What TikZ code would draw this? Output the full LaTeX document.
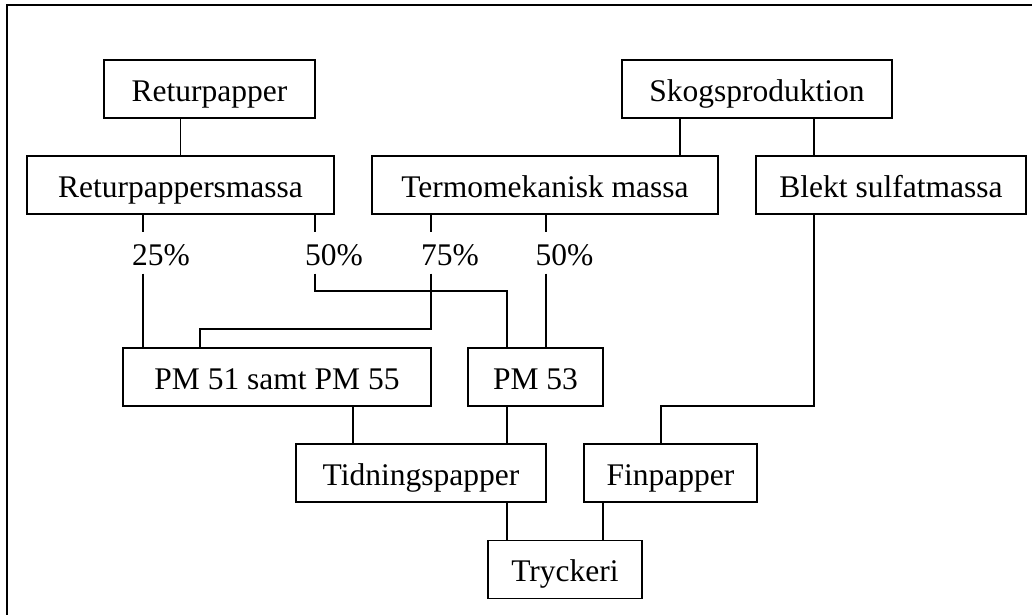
\documentclass[tikz,border=0pt]{standalone}
\usepackage{fontspec}
\setmainfont{Liberation Serif}
\usepackage{tikz}
\usetikzlibrary{positioning,calc}

\begin{document}
\begin{tikzpicture}[x=0.3pt, y=-0.3pt,
    box/.style={draw, line width=0.55pt, inner sep=0pt, minimum height=17.4pt,
        font=\fontsize{9.45}{11}\selectfont, text height=0.75em, text depth=0pt},
    pct/.style={inner sep=0pt, minimum height=12pt,
        font=\fontsize{9.45}{11}\selectfont, text height=0.75em, text depth=0pt},
    link/.style={line width=0.55pt}]
    \useasboundingbox (0,0) rectangle (1032,615);
    \draw[line width=0.75pt] (1032,5) -| (7,615);

    % Top row
    \node[box, minimum width=63.3pt] (retur) at (209.5,89) {Returpapper};
    \node[box, minimum width=81pt] (skog) at (757,89) {Skogsproduktion};

    % Pulp
    \node[box, minimum width=92.1pt] (rmassa) at (180.5,185) {Returpappersmassa};
    \node[box, minimum width=103.8pt] (termo) at (545,185) {Termomekanisk massa};
    \node[box, minimum width=81pt] (blekt) at (891,185) {Blekt sulfatmassa};

    % Shares
    \node[pct] (p25) at (161,253) {25\%};
    \node[pct] (p50a) at (334,253) {50\%};
    \node[pct] (p75) at (450,253) {75\%};
    \node[pct] (p50b) at (564.5,253) {50\%};

    % Machines
    \node[box, minimum width=92.4pt] (pm51) at (277,377) {PM 51 samt PM 55};
    \node[box, minimum width=40.5pt] (pm53) at (535.5,377) {PM 53};

    % Paper
    \node[box, minimum width=75pt] (tidning) at (421,473) {Tidningspapper};
    \node[box, minimum width=51.9pt] (fin) at (670.5,473) {Finpapper};
    \node[box, minimum width=46.2pt] (tryck) at (565,569.5) {Tryckeri};

    % line positions
    \coordinate (a25) at (143,0);
    \coordinate (a50) at (315,0);
    \coordinate (a75) at (431,0);
    \coordinate (b50) at (546,0);
    \coordinate (ks) at (680,0);
    \coordinate (kb) at (814,0);
    \coordinate (t1) at (353,0);
    \coordinate (t2) at (603,0);
    \coordinate (j50) at (507,291);
    \coordinate (j75) at (200,329);
    \coordinate (jb) at (661,406);

    % Connectors
    \draw[link] (retur.south -| rmassa.north) -- (rmassa.north);
    \draw[link] (skog.south -| ks) -- (termo.north -| ks);
    \draw[link] (skog.south -| kb) -- (blekt.north -| kb);

    \draw[link] (rmassa.south -| a25) -- (p25.north -| a25);
    \draw[link] (p25.south -| a25) -- (pm51.north -| a25);
    \draw[link] (rmassa.south -| a50) -- (p50a.north -| a50);
    \draw[link] (p50a.south -| a50) |- (j50) -- (pm53.north -| j50);
    \draw[link] (termo.south -| a75) -- (p75.north -| a75);
    \draw[link] (p75.south -| a75) |- (j75) -- (pm51.north -| j75);
    \draw[link] (termo.south -| b50) -- (p50b.north -| b50);
    \draw[link] (p50b.south -| b50) -- (pm53.north -| b50);

    \draw[link] (blekt.south -| kb) |- (jb) -- (fin.north -| jb);
    \draw[link] (pm51.south -| t1) -- (tidning.north -| t1);
    \draw[link] (pm53.south -| j50) -- (tidning.north -| j50);
    \draw[link] (tidning.south -| j50) -- (tryck.north -| j50);
    \draw[link] (fin.south -| t2) -- (tryck.north -| t2);
\end{tikzpicture}
\end{document}
